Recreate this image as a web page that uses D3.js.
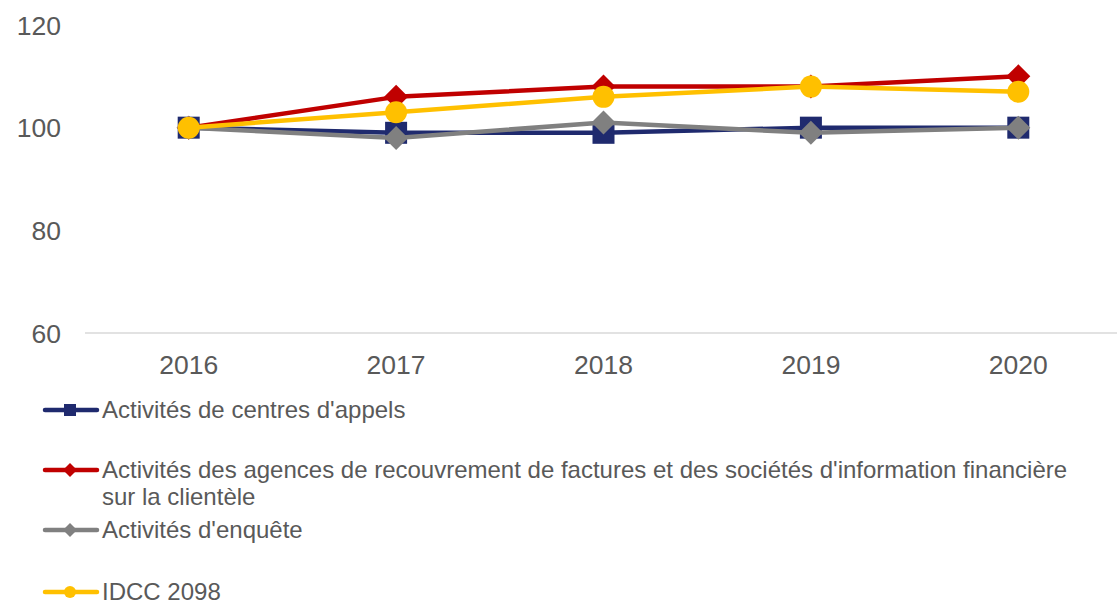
<!DOCTYPE html>
<html>
<head>
<meta charset="utf-8">
<script src="https://cdn.jsdelivr.net/npm/d3@7"></script>
<style>
	body { margin: 0; background: #fff; }
	svg { display: block; font-family: 'Liberation Sans', Arial, sans-serif; }
</style>
</head>
<body>
<svg id="chart" width="1117" height="602"></svg>
<script>
const years = ['2016', '2017', '2018', '2019', '2020'];
const yTicks = [60, 80, 100, 120];

const seriesNames = [
	"Activités de centres d'appels",
	"Activités des agences de recouvrement de factures et des sociétés d'information financière|sur la clientèle",
	"Activités d'enquête",
	'IDCC 2098'
];
const callCentres = [100, 99, 99, 100, 100];
const recouvrement = [100, 106, 108, 108, 110];
const enquete = [100, 98, 101, 99, 100];
const idcc = [100, 103, 106, 108, 107];

const seriesColors = ['#1f2a6e', '#c00000', '#808080', '#ffc000'];
const seriesShapes = ['square', 'diamond', 'diamond', 'circle'];

const series = [callCentres, recouvrement, enquete, idcc].map((values, i) => ({
	name: seriesNames[i],
	values,
	color: seriesColors[i],
	shape: seriesShapes[i]
}));

const $svg = d3.select('#chart');

const x = d3.scaleBand().domain(years).range([85, 1122]);
const y = d3.scaleLinear().domain([60, 120]).range([333, 25]);

// axis line at the bottom
$svg.append('line')
	.attr('x1', 85).attr('x2', 1117)
	.attr('y1', y(60)).attr('y2', y(60))
	.attr('stroke', '#d9d9d9').attr('stroke-width', 1.5);

$svg.append('g').selectAll('text')
	.data(yTicks)
	.join('text')
	.attr('x', 61)
	.attr('y', d => y(d))
	.attr('dy', '0.36em')
	.attr('text-anchor', 'end')
	.attr('font-size', 26.5)
	.attr('fill', '#595959')
	.text(d => d);

$svg.append('g').selectAll('text')
	.data(years)
	.join('text')
	.attr('x', d => x(d) + x.bandwidth() / 2)
	.attr('y', 374)
	.attr('text-anchor', 'middle')
	.attr('font-size', 26.5)
	.attr('fill', '#595959')
	.text(d => d);

function drawMarker(g, shape, cx, cy, size, color) {
	if (shape === 'square') {
		g.append('rect')
			.attr('x', cx - size / 2).attr('y', cy - size / 2)
			.attr('width', size).attr('height', size)
			.attr('fill', color);
	} else if (shape === 'diamond') {
		const r = size / 2 + 1;
		g.append('path')
			.attr('d', `M${cx},${cy - r}L${cx + r},${cy}L${cx},${cy + r}L${cx - r},${cy}Z`)
			.attr('fill', color);
	} else {
		g.append('circle')
			.attr('cx', cx).attr('cy', cy).attr('r', size / 2)
			.attr('fill', color);
	}
}

const line = d3.line()
	.x((d, i) => x(years[i]) + x.bandwidth() / 2)
	.y(d => y(d));

series.forEach(s => {
	const g = $svg.append('g');
	g.append('path')
		.attr('d', line(s.values))
		.attr('fill', 'none')
		.attr('stroke', s.color)
		.attr('stroke-width', 4.5)
		.attr('stroke-linejoin', 'round');
	s.values.forEach((v, i) => {
		drawMarker(g, s.shape, x(years[i]) + x.bandwidth() / 2, y(v), 22, s.color);
	});
});

// legend
const legendY = [410, 470, 530, 592];
series.forEach((s, i) => {
	const g = $svg.append('g');
	const ly = legendY[i];
	g.append('line')
		.attr('x1', 45).attr('x2', 97)
		.attr('y1', ly).attr('y2', ly)
		.attr('stroke', s.color).attr('stroke-width', 4.5)
		.attr('stroke-linecap', 'round');
	drawMarker(g, s.shape, 70, ly, 12, s.color);
	const t = g.append('text')
		.attr('x', 102)
		.attr('y', ly + 8)
		.attr('font-size', 24)
		.attr('fill', '#595959');
	s.name.split('|').forEach((part, j) => {
		t.append('tspan')
			.attr('x', 102)
			.attr('dy', j === 0 ? 0 : 27)
			.text(part);
	});
});
</script>
</body>
</html>
